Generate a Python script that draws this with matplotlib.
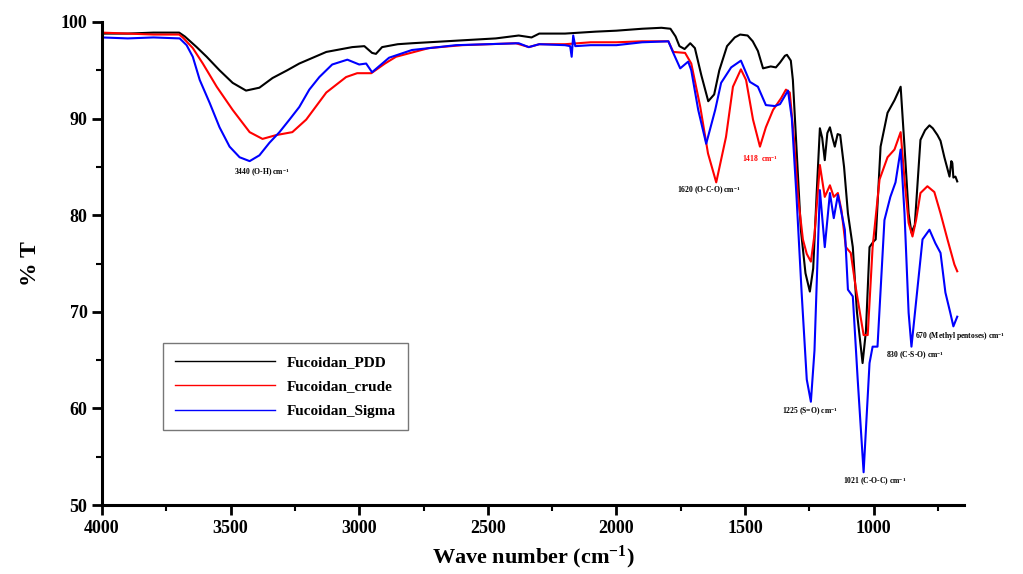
import matplotlib
matplotlib.use("Agg")
import matplotlib.pyplot as plt
from matplotlib.ticker import MultipleLocator

plt.rcParams['font.family'] = ['Liberation Serif', 'DejaVu Serif']
plt.rcParams['font.weight'] = 'bold'
plt.rcParams['mathtext.fontset'] = 'custom'
plt.rcParams['mathtext.rm'] = 'Liberation Serif:bold'
plt.rcParams['mathtext.bf'] = 'Liberation Serif:bold'
plt.rcParams['mathtext.default'] = 'bf'

# FTIR spectra (wavenumber cm-1, %T)
pdd_wn = [4000, 3900, 3800, 3700, 3678, 3632, 3593, 3543, 3492, 3440, 3388, 3337, 3280,
          3233, 3128, 3027, 2980, 2950, 2935, 2911, 2850, 2795, 2600, 2469, 2380, 2330,
          2300, 2200, 2081, 2000, 1900, 1825, 1790, 1770, 1755, 1735, 1713, 1695, 1670,
          1643, 1620, 1600, 1570, 1540, 1519, 1490, 1470, 1450, 1430, 1400, 1380, 1364,
          1345, 1337, 1322, 1314, 1300, 1283, 1265, 1248, 1235, 1222, 1209, 1200, 1190,
          1180, 1170, 1160, 1151, 1140, 1130, 1115, 1100, 1081, 1065, 1043, 1030, 1016,
          1000, 992, 973, 946, 919, 895, 880, 864, 853, 840, 830, 818, 800, 783, 770, 752,
          740, 725, 705, 698, 694, 690, 682, 675]
pdd_t = [98.8, 98.8, 98.9, 98.9, 98.5, 97.4, 96.4, 95.0, 93.7, 92.9, 93.2, 94.2, 95.0,
         95.7, 96.9, 97.4, 97.5, 96.8, 96.7, 97.4, 97.7, 97.8, 98.1, 98.3, 98.6, 98.4,
         98.8, 98.8, 99.0, 99.1, 99.3, 99.4, 99.3, 98.5, 97.5, 97.2, 97.8, 97.3, 94.5,
         91.8, 92.5, 95.0, 97.5, 98.4, 98.7, 98.6, 98.0, 97.0, 95.2, 95.4, 95.3, 95.8,
         96.5, 96.6, 96.0, 94.0, 87.0, 78.5, 74.0, 72.1, 74.5, 82.0, 89.0, 88.0, 85.7,
         88.5, 89.1, 88.0, 87.1, 88.4, 88.3, 85.0, 80.2, 76.7, 70.0, 64.7, 68.0, 76.7,
         77.3, 77.5, 87.1, 90.6, 91.9, 93.3, 87.1, 80.2, 78.2, 79.0, 83.0, 87.8, 88.8,
         89.3, 89.0, 88.3, 87.7, 86.0, 84.0, 85.6, 85.4, 83.9, 84.0, 83.5]

crude_wn = [4000, 3900, 3800, 3700, 3686, 3647, 3608, 3554, 3492, 3426, 3376, 3322, 3260,
            3206, 3128, 3051, 3008, 2953, 2900, 2857, 2729, 2600, 2391, 2340, 2300, 2200,
            2100, 2000, 1900, 1798, 1779, 1733, 1709, 1674, 1644, 1612, 1574, 1547, 1516,
            1496, 1469, 1442, 1419, 1391, 1360, 1341, 1326, 1310, 1294, 1275, 1260, 1244,
            1230, 1209, 1190, 1170, 1155, 1139, 1125, 1108, 1089, 1070, 1039, 1023, 1004,
            977, 946, 919, 895, 880, 864, 849, 835, 818, 791, 764, 740, 713, 686, 675]
crude_t = [98.9, 98.8, 98.7, 98.7, 98.4, 97.3, 95.7, 93.3, 90.9, 88.6, 87.9, 88.3, 88.6,
           89.9, 92.7, 94.3, 94.7, 94.7, 95.7, 96.4, 97.3, 97.6, 97.8, 97.4, 97.7, 97.7,
           97.9, 97.9, 98.0, 98.0, 96.9, 96.8, 95.7, 91.2, 86.4, 83.4, 88.1, 93.3, 95.1,
           94.0, 89.9, 87.1, 89.1, 90.9, 92.1, 93.0, 92.7, 88.0, 81.9, 77.5, 76.0, 75.2,
           78.0, 85.2, 81.9, 83.1, 81.9, 82.3, 80.5, 76.7, 76.1, 72.6, 67.6, 67.6, 76.7,
           83.7, 86.0, 86.8, 88.6, 83.7, 79.2, 77.8, 79.5, 82.3, 83.0, 82.4, 80.2, 77.5,
           74.9, 74.2]

sigma_wn = [4000, 3900, 3800, 3698, 3671, 3647, 3620, 3581, 3543, 3504, 3465, 3426, 3388,
            3349, 3310, 3271, 3233, 3194, 3155, 3105, 3046, 3000, 2973, 2950, 2884, 2795,
            2624, 2380, 2341, 2300, 2200, 2180, 2174, 2168, 2160, 2100, 2000, 1900, 1798,
            1779, 1752, 1721, 1709, 1682, 1651, 1616, 1593, 1554, 1516, 1481, 1450, 1419,
            1384, 1364, 1333, 1318, 1300, 1280, 1260, 1244, 1230, 1215, 1209, 1190, 1170,
            1155, 1139, 1112, 1100, 1081, 1062, 1039, 1016, 1004, 985, 958, 935, 915, 895,
            880, 864, 853, 829, 810, 783, 760, 740, 721, 702, 690, 675]
sigma_t = [98.4, 98.3, 98.4, 98.3, 97.6, 96.4, 94.0, 91.6, 89.1, 87.1, 86.0, 85.6, 86.2,
           87.5, 88.6, 89.9, 91.2, 93.0, 94.3, 95.6, 96.1, 95.6, 95.7, 94.8, 96.3, 97.1,
           97.6, 97.8, 97.4, 97.7, 97.6, 97.5, 96.4, 98.6, 97.5, 97.6, 97.6, 97.9, 98.0,
           96.8, 95.2, 95.9, 95.0, 90.9, 87.4, 90.9, 93.7, 95.3, 96.0, 93.8, 93.3, 91.4,
           91.3, 91.5, 92.9, 90.0, 82.0, 72.0, 63.0, 60.7, 66.0, 78.0, 82.6, 76.7, 82.3,
           79.7, 82.1, 78.5, 72.3, 71.6, 63.0, 53.4, 64.7, 66.4, 66.4, 79.5, 81.9, 83.4,
           86.8, 80.2, 69.9, 66.4, 72.6, 77.5, 78.5, 77.1, 76.1, 72.0, 69.9, 68.5, 69.5]

labels = ['Fucoidan_PDD', 'Fucoidan_crude', 'Fucoidan_Sigma']
colors = ['black', 'red', 'blue']

# band assignments: (text, x, y, colour)
bands = [('3440 (O-H) cm$^{-1}$', 3380, 84.4, 'black'),
         ('1620 (O-C-O) cm$^{-1}$', 1640, 82.5, 'black'),
         ('1418  cm$^{-1}$', 1442, 85.9, 'red'),
         ('1225 (S=O) cm$^{-1}$', 1248, 59.7, 'black'),
         ('1021 (C-O-C) cm$^{-1}$', 996, 52.4, 'black'),
         ('830 (C-S-O) cm$^{-1}$', 837, 65.5, 'black'),
         ('670 (Methyl pentoses) cm$^{-1}$', 665, 67.4, 'black')]

fig, ax = plt.subplots(figsize=(10.23, 5.74), dpi=100)
fig.subplots_adjust(left=0.0997, right=0.942, top=0.9617, bottom=0.12)

for wn, t, lab, c in zip([pdd_wn, crude_wn, sigma_wn], [pdd_t, crude_t, sigma_t], labels, colors):
    ax.plot(wn, t, color=c, lw=1.5, label=lab)

for txt, x, y, c in bands:
    ax.text(x, y, txt, color=c, fontsize=5.5, ha='center', va='center', clip_on=False)

ax.set_xlim(4000, 650)
ax.set_ylim(50, 100)
ax.xaxis.set_major_locator(MultipleLocator(500))
ax.xaxis.set_minor_locator(MultipleLocator(250))
ax.yaxis.set_major_locator(MultipleLocator(10))
ax.yaxis.set_minor_locator(MultipleLocator(5))
ax.tick_params(which='major', direction='out', length=7, width=2, labelsize=13)
ax.tick_params(which='minor', direction='out', length=4, width=1.5)
for s in ['top', 'right']:
    ax.spines[s].set_visible(False)
for s in ['left', 'bottom']:
    ax.spines[s].set_linewidth(2.2)
for lbl in ax.get_xticklabels() + ax.get_yticklabels():
    lbl.set_fontweight('bold')

ax.set_xlabel('Wave number (cm$^{-1}$)', fontsize=16, fontweight='bold', labelpad=5)
ax.set_ylabel('% T', fontsize=17, fontweight='bold', labelpad=14)

leg = ax.legend(loc='lower left', bbox_to_anchor=(0.071, 0.155), borderaxespad=0,
                frameon=True, fancybox=False, edgecolor='#555555', handlelength=6.5,
                borderpad=0.8, labelspacing=0.7, prop={'weight': 'bold', 'size': 11})
leg.get_frame().set_linewidth(1.0)
for line in leg.get_lines():
    line.set_linewidth(1.0)

fig.savefig('out.png', dpi=100)
